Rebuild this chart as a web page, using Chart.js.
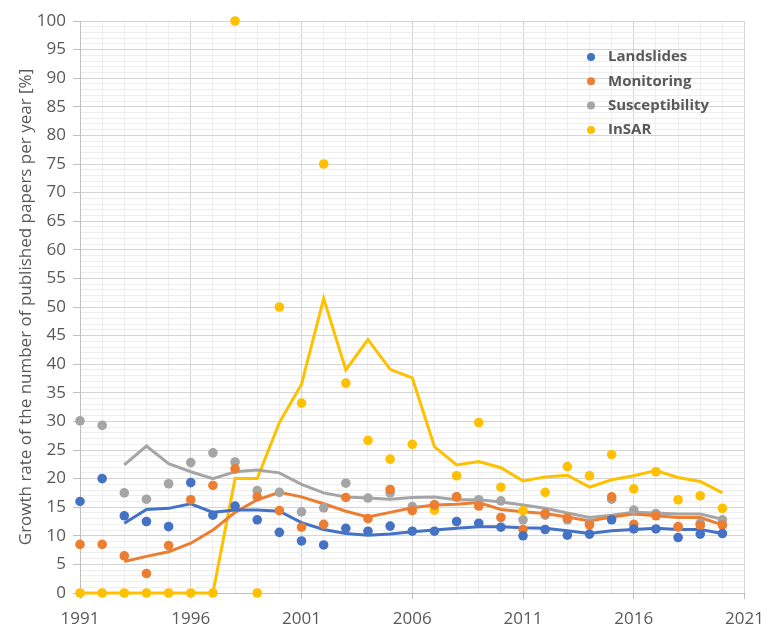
<!DOCTYPE html>
<html>
<head>
<meta charset="utf-8">
<script src="https://cdn.jsdelivr.net/npm/chart.js@4.4.0/dist/chart.umd.min.js"></script>
<style>
  html, body { margin: 0; padding: 0; background: #fff; }
</style>
</head>
<body>
<canvas id="grafico" width="774" height="627"></canvas>
<script>
// Datos
const years = [1991, 1992, 1993, 1994, 1995, 1996, 1997, 1998, 1999, 2000,
               2001, 2002, 2003, 2004, 2005, 2006, 2007, 2008, 2009, 2010,
               2011, 2012, 2013, 2014, 2015, 2016, 2017, 2018, 2019, 2020];
const avgYears = years.slice(2); // las medias moviles empiezan en 1993

const landslides = [16.0, 20.0, 13.5, 12.5, 11.6, 19.3, 13.6, 15.2, 12.8, 10.6,
                    9.1, 8.4, 11.3, 10.8, 11.7, 10.8, 10.8, 12.5, 12.2, 11.5,
                    10.0, 11.1, 10.1, 10.3, 12.8, 11.2, 11.2, 9.7, 10.3, 10.4];
const monitoring = [8.5, 8.5, 6.5, 3.4, 8.3, 16.3, 18.8, 21.7, 16.8, 14.4,
                    11.5, 12.0, 16.7, 13.0, 18.1, 14.4, 15.4, 16.8, 15.2, 13.2,
                    11.1, 13.9, 13.1, 11.9, 16.8, 12.0, 13.5, 11.6, 11.8, 11.9];
const susceptibility = [30.1, 29.3, 17.5, 16.4, 19.1, 22.8, 24.5, 22.9, 17.9, 17.6,
                        14.2, 14.9, 19.2, 16.6, 17.5, 15.1, 15.4, 16.8, 16.3, 16.1,
                        12.8, 13.6, 12.8, 12.2, 16.4, 14.5, 13.9, 11.5, 12.2, 12.8];
const insar = [0, 0, 0, 0, 0, 0, 0, 100, 0, 50,
               33.2, 75, 36.7, 26.7, 23.4, 26.0, 14.5, 20.5, 29.8, 18.5,
               14.4, 17.6, 22.1, 20.5, 24.2, 18.2, 21.2, 16.3, 17.0, 14.8];

// Lineas de tendencia (media movil)
const landslidesAvg = [12.2, 14.6, 14.8, 15.6, 14.1, 14.5, 14.5, 14.3, 12.3, 11.1,
                       10.4, 10.1, 10.3, 10.7, 11.0, 11.3, 11.6, 11.6, 11.4, 11.3,
                       10.9, 10.4, 10.9, 11.1, 11.3, 11.1, 11.1, 10.4];
const monitoringAvg = [5.5, 6.4, 7.2, 8.7, 11.0, 14.1, 16.3, 17.6, 16.8, 15.6,
                       14.3, 13.3, 14.1, 14.9, 15.4, 15.5, 15.8, 14.6, 14.2, 13.9,
                       13.3, 12.6, 13.3, 13.8, 13.5, 13.2, 13.2, 11.9];
const susceptibilityAvg = [22.4, 25.7, 22.6, 21.2, 20.0, 21.2, 21.5, 21.0, 19.0, 17.5,
                           16.8, 16.6, 16.4, 16.7, 16.8, 16.3, 16.3, 15.9, 15.4, 14.8,
                           14.0, 13.2, 13.6, 14.1, 14.0, 13.8, 13.8, 12.9];
const insarAvg = [0, 0, 0, 0, 0, 0, 0, 20, 20, 29.8,
                  36.5, 51.5, 39.0, 44.3, 39.1, 37.6, 25.6, 22.4, 23.0, 21.9,
                  19.6, 20.3, 20.6, 18.5, 19.8, 20.5, 21.4, 20.2, 19.5, 17.5];

const seriesNames = ['Landslides', 'Monitoring', 'Susceptibility', 'InSAR'];
const colores = ['#4472C4', '#ED7D31', '#A5A5A5', '#FFC000'];

const xTickLabels = [1991, 1996, 2001, 2006, 2011, 2016, 2021];
const yTickStep = 5;

const FUENTE = '"Open Sans", "Liberation Sans", sans-serif';
const GRIS_TEXTO = '#595959';

function aPuntos(xs, ys) {
    return ys.map((v, i) => ({ x: xs[i], y: v }));
}

function puntos(label, data, color) {
    return {
        type: 'scatter',
        label: label,
        data: aPuntos(years, data),
        backgroundColor: color,
        borderColor: color,
        pointRadius: 4.8,
        pointHoverRadius: 4.8,
        borderWidth: 0,
        clip: false,
        order: 0
    };
}

function tendencia(xs, data, color) {
    return {
        type: 'line',
        label: '',
        data: aPuntos(xs, data),
        borderColor: color,
        borderWidth: 3,
        pointRadius: 0,
        fill: false,
        tension: 0,
        clip: false,
        order: 1
    };
}

// Leyenda dentro del area del grafico
const leyendaInterna = {
    id: 'leyendaInterna',
    afterDatasetsDraw(chart) {
        const ctx = chart.ctx;
        ctx.save();
        ctx.font = 'bold 15px ' + FUENTE;
        ctx.textBaseline = 'middle';
        ctx.textAlign = 'left';
        chart.data.datasets
            .filter(d => d.type === 'scatter')
            .forEach((d, i) => {
                const y = 57 + i * 24.3;
                ctx.fillStyle = d.backgroundColor;
                ctx.beginPath();
                ctx.arc(591, y, 4, 0, Math.PI * 2);
                ctx.fill();
                ctx.fillStyle = GRIS_TEXTO;
                ctx.fillText(d.label, 608, y);
            });
        ctx.restore();
    }
};

const esMayorX = v => xTickLabels.includes(v);
const esMayorY = v => v % yTickStep === 0;

new Chart(document.getElementById('grafico'), {
    data: {
        datasets: [
            tendencia(avgYears, landslidesAvg, colores[0]),
            tendencia(avgYears, monitoringAvg, colores[1]),
            tendencia(avgYears, susceptibilityAvg, colores[2]),
            tendencia(years, insarAvg, colores[3]),
            puntos(seriesNames[0], landslides, colores[0]),
            puntos(seriesNames[1], monitoring, colores[1]),
            puntos(seriesNames[2], susceptibility, colores[2]),
            puntos(seriesNames[3], insar, colores[3])
        ]
    },
    options: {
        responsive: false,
        animation: false,
        layout: { padding: { top: 21, right: 19, left: 0, bottom: 0 } },
        plugins: {
            legend: { display: false },
            tooltip: { enabled: false }
        },
        scales: {
            x: {
                type: 'linear',
                min: 1991,
                max: 2021,
                afterFit: s => { s.height = 34; },
                afterBuildTicks: s => {
                    s.ticks = [];
                    for (let v = 1991; v <= 2021; v++) s.ticks.push({ value: v });
                },
                ticks: {
                    autoSkip: false,
                    maxRotation: 0,
                    padding: 10,
                    color: GRIS_TEXTO,
                    font: { family: FUENTE, size: 17 },
                    callback: v => esMayorX(v) ? String(v) : ''
                },
                grid: {
                    tickLength: 6,
                    color: c => esMayorX(c.tick.value) ? '#d4d4d4' : '#eeeeee',
                    tickColor: c => esMayorX(c.tick.value) ? '#bfbfbf' : 'rgba(0,0,0,0)'
                },
                border: { color: '#bfbfbf', width: 1 }
            },
            y: {
                min: 0,
                max: 100,
                afterFit: s => { s.width = 80; },
                afterBuildTicks: s => {
                    s.ticks = [];
                    for (let v = 0; v <= 100; v++) s.ticks.push({ value: v });
                },
                ticks: {
                    autoSkip: false,
                    padding: 7,
                    color: GRIS_TEXTO,
                    font: { family: FUENTE, size: 17 },
                    callback: v => esMayorY(v) ? String(v) : ''
                },
                grid: {
                    tickLength: 7,
                    color: c => esMayorY(c.tick.value) ? '#d4d4d4' : '#eeeeee',
                    tickColor: c => esMayorY(c.tick.value) ? '#bfbfbf' : 'rgba(0,0,0,0)'
                },
                border: { color: '#bfbfbf', width: 1 },
                title: {
                    display: true,
                    text: 'Growth rate of the number of published papers per year [%]',
                    color: GRIS_TEXTO,
                    font: { family: FUENTE, size: 17 },
                    padding: { top: 16, bottom: 0 }
                }
            }
        }
    },
    plugins: [leyendaInterna]
});
</script>
</body>
</html>
